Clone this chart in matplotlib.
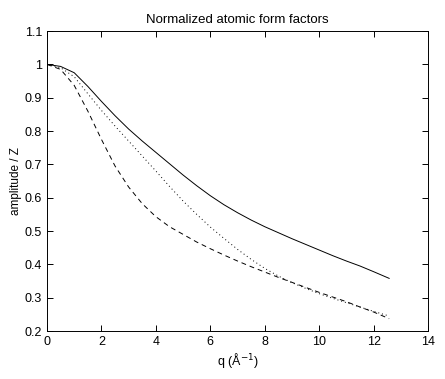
import matplotlib
matplotlib.use("Agg")
import matplotlib.pyplot as plt

# values
q = [0, 0.5, 1, 1.5, 2, 2.5, 3, 3.5, 4, 4.5, 5, 5.5, 6, 6.5, 7, 7.5, 8,
     8.5, 9, 9.5, 10, 10.5, 11, 11.5, 12, 12.57]
solid = [1.0, 0.994, 0.975, 0.934, 0.889, 0.846, 0.806, 0.77, 0.736, 0.702,
         0.668, 0.636, 0.606, 0.579, 0.555, 0.533, 0.513, 0.495, 0.477,
         0.46, 0.443, 0.426, 0.41, 0.395, 0.378, 0.358]
dotted = [1.0, 0.99, 0.963, 0.912, 0.862, 0.815, 0.77, 0.725, 0.68, 0.634,
          0.59, 0.55, 0.512, 0.478, 0.445, 0.415, 0.388, 0.365, 0.345,
          0.328, 0.312, 0.298, 0.285, 0.272, 0.259, 0.245]
dashed = [1.0, 0.985, 0.937, 0.86, 0.775, 0.695, 0.632, 0.582, 0.543, 0.513,
          0.49, 0.467, 0.447, 0.428, 0.41, 0.393, 0.377, 0.361, 0.346,
          0.331, 0.316, 0.302, 0.288, 0.272, 0.257, 0.237]

xticks = [0, 2, 4, 6, 8, 10, 12, 14]
yticks = [0.2, 0.3, 0.4, 0.5, 0.6, 0.7, 0.8, 0.9, 1, 1.1]
ylabels = ["0.2", "0.3", "0.4", "0.5", "0.6", "0.7", "0.8", "0.9", "1", "1.1"]

plt.rcParams['font.family'] = ['Liberation Sans', 'DejaVu Sans']

fig = plt.figure(figsize=(4.45, 3.79), dpi=100)
ax = fig.add_axes([0.1056, 0.1266, 0.8564, 0.7914])

ax.plot(q, solid, color='k', linewidth=0.7, linestyle='-')
ax.plot(q, dotted, color='k', linewidth=0.7, linestyle=(0, (1, 3)))
ax.plot(q, dashed, color='k', linewidth=0.7, linestyle=(0, (5, 4)))

ax.set_xlim(0, 14)
ax.set_ylim(0.2, 1.1)
ax.set_xticks(xticks)
ax.set_yticks(yticks)
ax.set_yticklabels(ylabels)
ax.tick_params(direction='in', top=True, right=True, labelsize=9, length=4, width=0.7)
for s in ax.spines.values():
    s.set_linewidth(0.7)

ax.set_title("Normalized atomic form factors", fontsize=9.5, pad=6)
ax.set_xlabel("q (\u00c5$^{-1}$)", fontsize=9, labelpad=2)
ax.set_ylabel("amplitude / Z", fontsize=8.5, labelpad=2)

fig.savefig("out.png", dpi=100)
